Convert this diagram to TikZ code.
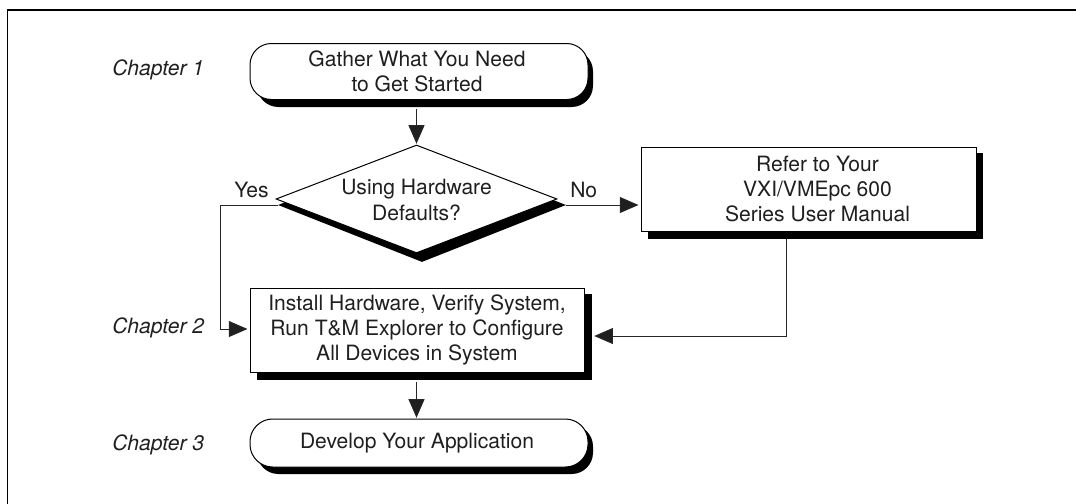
\documentclass[tikz,border=0pt]{standalone}
\usepackage{fontspec}
\setmainfont{TeX Gyre Heros}
\usetikzlibrary{arrows.meta,calc,shapes.geometric}
\tikzset{x=0.75pt,y=-0.75pt,
  lbl/.style={font=\fontsize{15.8pt}{19pt}\selectfont,align=center,inner sep=0pt,text=black!88},
  chap/.style={font=\fontsize{15.8pt}{19pt}\selectfont\itshape,inner sep=0pt,anchor=base west,text=black!88},
  yn/.style={font=\fontsize{15.8pt}{19pt}\selectfont,inner sep=0pt,anchor=base west,text=black!88},
  conn/.style={line width=0.75pt,draw=black!85,-{Triangle[length=14pt,width=12pt,fill=black!88]}},
  outl/.style={line width=0.75pt,draw=black,fill=white},
  shade/.style={fill=black,draw=none,inner sep=0pt},
  sized/.style 2 args={minimum width=#1*0.75pt,minimum height=#2*0.75pt},
  term/.style={rectangle,rounded corners=16pt},
  dia/.style={diamond,inner sep=0pt}}
\begin{document}
\begin{tikzpicture}
\useasboundingbox (0,0) rectangle (1076,504);
% frame (top and left only)
\draw[line width=1.5pt] (7,10) -- (1076,10);
\draw[line width=0.75pt] (7.5,10) -- (7.5,504);
% chapter labels
\node[chap] (c1) at (112,75) {Chapter 1};
\node[chap] (c2) at (112,333) {Chapter 2};
\node[chap] (c3) at (112,450) {Chapter 3};
% start terminator
\node[shade,term,sized={336}{57}] (starts) at (425,78.5) {};
\node[outl,term,sized={338}{56}] (start) at (419,71.5) {};
\node[lbl] (startlbl) at (417,71.5) {Gather What You Need\\to Get Started};
% decision
\node[shade,dia,aspect=2.526,sized={288}{114}] (decs) at (422,205) {};
\node[outl,dia,aspect=2.602,sized={281}{108}] (dec) at (416.5,199) {};
\node[lbl] (declbl) at (416.5,200) {Using Hardware\\Defaults?};
\node[yn] (yes) at (234,197) {Yes};
\node[yn] (no) at (570,197) {No};
% refer box
\node[shade,sized={335}{86}] (refers) at (815.5,196) {};
\node[outl,sized={335}{84}] (refer) at (808.5,189) {};
\node[lbl] (referlbl) at (817.5,189) {Refer to Your\\VXI/VMEpc 600\\Series User Manual};
% install box
\node[shade,sized={335}{86}] (insts) at (424.5,337) {};
\node[outl,lbl,sized={334}{84}] (inst) at (417,330) {Install Hardware, Verify System,\\Run T\&M Explorer to Configure\\All Devices in System};
% develop terminator
\node[shade,term,sized={336}{49}] (devs) at (425,449.5) {};
\node[outl,term,rounded corners=17pt,sized={338}{48}] (dev) at (419,443) {};
\node[lbl] (devlbl) at (417,443) {Develop Your Application};
% connectors
\draw[conn,shorten <=1.5pt,shorten >=0.5pt] (starts.south -| dec.north) -- (dec.north);
\draw[conn,shorten >=1.5pt] (decs.east) -- (decs.east -| refer.west);
\draw[conn] (decs.west) -- ++(-57.5,0) |- ([yshift=0.75pt,xshift=-1.5pt]inst.west);
\draw[conn] ([xshift=-21.4pt]refers.south) |- ([yshift=0.75pt,xshift=1.5pt]insts.east);
\draw[conn,shorten <=1.5pt,shorten >=0.5pt] (insts.south -| dec.north) -- (dev.north -| dec.north);
\end{tikzpicture}
\end{document}
